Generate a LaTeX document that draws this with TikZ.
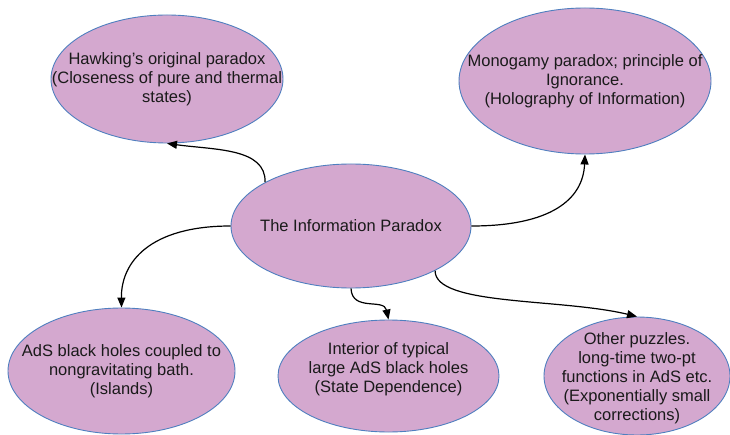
\documentclass[tikz,border=0pt]{standalone}
\usepackage{fontspec}
\setmainfont{Liberation Sans}
\usepackage{xcolor}
\usetikzlibrary{arrows.meta,shapes.geometric}

\definecolor{bubblefill}{HTML}{D4A8CF}
\definecolor{bubbleline}{HTML}{4F7FBF}
\definecolor{ink}{HTML}{1A1A1A}

\begin{document}
\begin{tikzpicture}[x=1pt,y=-1pt,->,>={Triangle[length=10pt,width=8pt]},line width=1.2pt,
                    bubble/.style={ellipse, draw=bubbleline, fill=bubblefill, line width=0.9pt, inner sep=0pt},
                    every label/.style={align=center, text=ink, font=\fontsize{16.5}{19}\selectfont}]
      \useasboundingbox (0,0) rectangle (730,435);

      \node[bubble, minimum width=240pt, minimum height=124pt,
            label={center:The Information Paradox}] (info) at (351,226) {};
      \node[bubble, minimum width=232pt, minimum height=128pt,
            label={center:Hawking's original paradox\\(Closeness of pure and thermal\\states)}] (hawk) at (167,79) {};
      \node[bubble, minimum width=252pt, minimum height=146pt,
            label={center:Monogamy paradox; principle of\\Ignorance.\\(Holography of Information)}] (mono) at (585,81) {};
      \node[bubble, minimum width=227pt, minimum height=126pt,
            label={center:AdS black holes coupled to\\nongravitating bath.\\(Islands)}] (islands) at (121.5,371) {};
      \node[bubble, minimum width=221pt, minimum height=112pt,
            label={[yshift=7pt]center:Interior of typical\\large AdS black holes\\(State Dependence)}] (interior) at (388.5,376) {};
      \node[bubble, minimum width=186pt, minimum height=118pt,
            label={[yshift=-2pt]center:Other puzzles.\\long-time two-pt\\functions in AdS etc.\\(Exponentially small\\corrections)}] (other) at (637,376) {};

      \draw (info.153) .. controls (266,148) and (215,150) .. (hawk.south);
      \draw (info.east) .. controls (550,226) and (583,200) .. (mono.south);
      \draw (info.west) .. controls (150,226) and (121,262) .. (islands.north);
      \draw (info.south) .. controls (352,312) and (384,298) .. (interior.north);
      \draw (info.332) .. controls (435,306) and (560,298) .. (other.north);
    \end{tikzpicture}
\end{document}
